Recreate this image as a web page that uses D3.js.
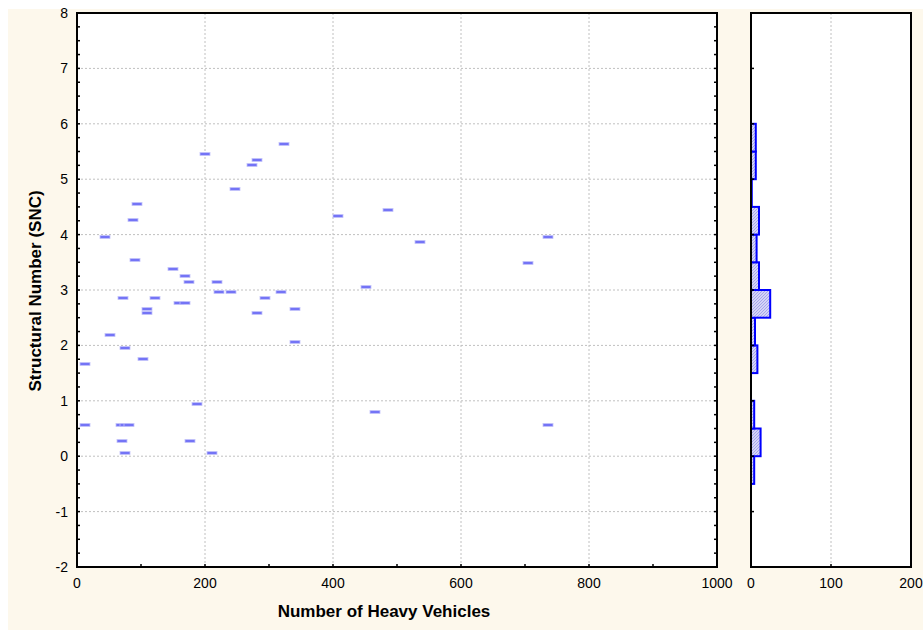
<!DOCTYPE html>
<html><head><meta charset="utf-8">
<script src="https://cdn.jsdelivr.net/npm/d3@7"></script>
<style>body{margin:0;background:#fff;}svg{display:block;}</style>
</head><body>
<script>
// ---- data ----
const heavyVehicles = [199.5,281,274,247,93,87,44,90,149.5,168,175,219,222,240,72,122,294,159,169,109,109,281,52,75,12.5,102.6,187.5,12.5,68,75,81,70,177,74.5,211.4,324,452,340,408,486,536.4,736.4,704.7,319,340,465,736.4];
const snc = [5.45,5.35,5.25,4.83,4.55,4.26,3.95,3.54,3.375,3.25,3.15,3.15,2.96,2.96,2.86,2.86,2.86,2.76,2.76,2.655,2.58,2.58,2.19,1.96,1.67,1.75,0.95,0.56,0.56,0.56,0.56,0.27,0.27,0.054,0.054,5.63,3.05,2.65,4.34,4.44,3.87,3.95,3.48,2.96,2.07,0.79,0.56];
const binStarts = [-0.5,0,0.5,1,1.5,2,2.5,3,3.5,4,4.5,5,5.5];
const binCounts = [4,12,4,0,8,5,24,10,7,10,1,6,6];
const binWidth = 0.5;
const xTicks = [0,200,400,600,800,1000];
const yTicks = [-2,-1,0,1,2,3,4,5,6,7,8];
const histTicks = [0,100,200];

(function(){
const W = 923, H = 630;
const svg = d3.select("body").append("svg").attr("width", W).attr("height", H);
svg.append("rect").attr("x",8).attr("y",9).attr("width",W-8).attr("height",H-9).attr("fill","#fdf8ec");

const pTop = 13, pBottom = 567;
const x = d3.scaleLinear().domain([0,1000]).range([77,717]);
const y = d3.scaleLinear().domain([-2,8]).range([pBottom,pTop]);
const xh = d3.scaleLinear().domain([0,200]).range([751,911]);

const font = "'Liberation Sans', Arial, sans-serif";

const defs = svg.append("defs");
const pat = defs.append("pattern").attr("id","hatch").attr("patternUnits","userSpaceOnUse").attr("width",3).attr("height",3);
pat.append("rect").attr("width",3).attr("height",3).attr("fill","#d4d4f6");
pat.append("path").attr("d","M0,3 L3,0").attr("stroke","#9a9ae8").attr("stroke-width",0.8);

// main panel
svg.append("rect").attr("x",x(0)).attr("y",pTop).attr("width",x(1000)-x(0)).attr("height",pBottom-pTop).attr("fill","#fff");
const g = svg.append("g");
g.selectAll(".gx").data(xTicks.filter(d=>d>0&&d<1000)).join("line")
  .attr("x1",d=>x(d)).attr("x2",d=>x(d)).attr("y1",pTop).attr("y2",pBottom)
  .attr("stroke","#c0c0c0").attr("stroke-dasharray","2,2").attr("stroke-width",1);
g.selectAll(".gy").data(yTicks.filter(d=>d>-2&&d<8)).join("line")
  .attr("y1",d=>y(d)).attr("y2",d=>y(d)).attr("x1",x(0)).attr("x2",x(1000))
  .attr("stroke","#c0c0c0").attr("stroke-dasharray","2,2").attr("stroke-width",1);

const pts = heavyVehicles.map((v,i)=>({x:v,y:snc[i]}));
g.selectAll(".pt").data(pts).join("rect")
  .attr("x",d=>Math.round(x(d.x))-5).attr("y",d=>Math.round(y(d.y))-1.5)
  .attr("width",10).attr("height",3)
  .attr("fill","#7474f6").attr("stroke","#c4c4fa").attr("stroke-width",0.8);

const minorY = d3.range(-2,8.001,0.25);
g.append("g").selectAll("line").data(minorY).join("line")
  .attr("x1",x(0)).attr("x2",x(0)+3).attr("y1",d=>y(d)).attr("y2",d=>y(d)).attr("stroke","#000").attr("stroke-width",1.5);
g.append("g").selectAll("line").data(minorY).join("line")
  .attr("x1",x(1000)).attr("x2",x(1000)-3).attr("y1",d=>y(d)).attr("y2",d=>y(d)).attr("stroke","#000").attr("stroke-width",1.5);
const minorX = d3.range(0,1000.1,100);
g.append("g").selectAll("line").data(minorX).join("line")
  .attr("x1",d=>x(d)).attr("x2",d=>x(d)).attr("y1",pBottom).attr("y2",pBottom-3).attr("stroke","#000").attr("stroke-width",1.5);
g.append("rect").attr("x",x(0)).attr("y",pTop).attr("width",x(1000)-x(0)).attr("height",pBottom-pTop)
  .attr("fill","none").attr("stroke","#000").attr("stroke-width",2);

g.selectAll(".yl").data(yTicks).join("text")
  .attr("x",68).attr("y",d=>y(d)).attr("dy","0.36em").attr("text-anchor","end")
  .attr("font-family",font).attr("font-size",14).text(d=>d);
g.selectAll(".xl").data(xTicks).join("text")
  .attr("x",d=>x(d)).attr("y",583).attr("dy","0.36em").attr("text-anchor","middle")
  .attr("font-family",font).attr("font-size",14).text(d=>d);

svg.append("text").attr("x",384).attr("y",611).attr("dy","0.36em").attr("text-anchor","middle")
  .attr("font-family",font).attr("font-size",17).attr("font-weight","bold").text("Number of Heavy Vehicles");
svg.append("text").attr("transform",`translate(35,291) rotate(-90)`).attr("dy","0.36em").attr("text-anchor","middle")
  .attr("font-family",font).attr("font-size",17).attr("font-weight","bold").text("Structural Number (SNC)");

// histogram panel
svg.append("rect").attr("x",xh(0)).attr("y",pTop).attr("width",xh(200)-xh(0)).attr("height",pBottom-pTop).attr("fill","#fff");
svg.append("line").attr("x1",xh(100)).attr("x2",xh(100)).attr("y1",pTop).attr("y2",pBottom)
  .attr("stroke","#c0c0c0").attr("stroke-dasharray","2,2");
const bins = binStarts.map((s,i)=>({s,c:binCounts[i]}));
svg.selectAll(".bar").data(bins.filter(d=>d.c>0)).join("rect")
  .attr("x",xh(0)).attr("y",d=>y(d.s+binWidth)).attr("width",d=>xh(d.c)-xh(0)).attr("height",d=>y(d.s)-y(d.s+binWidth))
  .attr("fill","url(#hatch)").attr("stroke","#0000ff").attr("stroke-width",2);
svg.append("g").selectAll("line").data(d3.range(-2,8.1,1)).join("line")
  .attr("x1",xh(0)).attr("x2",xh(0)+3).attr("y1",d=>y(d)).attr("y2",d=>y(d)).attr("stroke","#000").attr("stroke-width",1.5);
svg.append("g").selectAll("line").data(histTicks).join("line")
  .attr("x1",d=>xh(d)).attr("x2",d=>xh(d)).attr("y1",pBottom).attr("y2",pBottom-3).attr("stroke","#000").attr("stroke-width",1.5);
svg.append("rect").attr("x",xh(0)).attr("y",pTop).attr("width",xh(200)-xh(0)).attr("height",pBottom-pTop)
  .attr("fill","none").attr("stroke","#000").attr("stroke-width",2);
svg.selectAll(".hl").data(histTicks).join("text")
  .attr("x",d=>xh(d)).attr("y",583).attr("dy","0.36em").attr("text-anchor","middle")
  .attr("font-family",font).attr("font-size",14).text(d=>d);
})();
</script>
</body></html>
